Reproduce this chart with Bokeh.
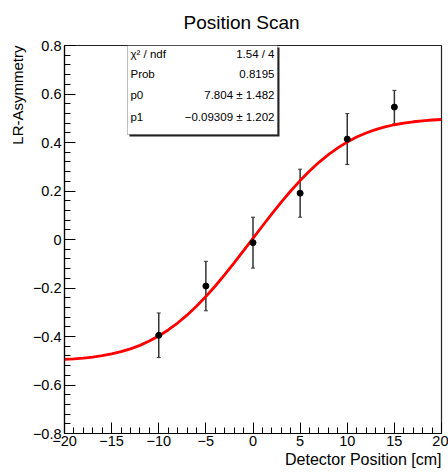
from bokeh.plotting import figure
from bokeh.models import (ColumnDataSource, Whisker, TeeHead, Label, BoxAnnotation,
                          FixedTicker, CustomJSTickFormatter, Range1d, Title)
from bokeh.embed import file_html
from bokeh.resources import INLINE

# ---- data ----
positions = [-10, -5, 0, 5, 10, 15]
asym = [-0.395, -0.192, -0.013, 0.191, 0.414, 0.546]
asym_err = [0.092, 0.102, 0.105, 0.099, 0.105, 0.069]

fit_x = list(range(-20, 21))
fit_y = [-0.4946, -0.4923, -0.4891, -0.4849, -0.4792, -0.4719, -0.4626, -0.4509,
         -0.4365, -0.4189, -0.3979, -0.3731, -0.3445, -0.3120, -0.2754, -0.2353,
         -0.1917, -0.1452, -0.0965, -0.0462, 0.0048, 0.0557, 0.1058, 0.1541,
         0.2000, 0.2430, 0.2825, 0.3183, 0.3501, 0.3780, 0.4021, 0.4224,
         0.4393, 0.4531, 0.4643, 0.4732, 0.4801, 0.4855, 0.4896, 0.4927, 0.4949]

x_ticks = [-20, -15, -10, -5, 0, 5, 10, 15, 20]
y_ticks = [-0.8, -0.6, -0.4, -0.2, 0.0, 0.2, 0.4, 0.6, 0.8]

stat_names = ["\u03c7\u00b2 / ndf", "Prob", "p0", "p1"]
stat_values = ["1.54 / 4", "0.8195", "7.804 \u00b1 1.482", "\u22120.09309 \u00b1 1.202"]

title_text = "Position Scan"
x_title = "Detector Position [cm]"
y_title = "LR-Asymmetry"

FONT = "Liberation Sans"

p = figure(width=448, height=473, output_backend="svg", toolbar_location=None,
           x_range=Range1d(-20, 20), y_range=Range1d(-0.8, 0.8),
           min_border_left=64, min_border_right=7, min_border_top=45, min_border_bottom=40)
p.background_fill_color = "white"
p.border_fill_color = "white"
p.outline_line_color = "#222222"
p.outline_line_width = 1.2
p.xgrid.visible = False
p.ygrid.visible = False

# main title
p.title.text = title_text
p.title.align = "left"
p.title.offset = 119
p.title.text_font = FONT
p.title.text_font_size = "19px"
p.title.text_font_style = "normal"
p.title.text_color = "black"
p.title.vertical_align = "top"
p.title.standoff = 22

# axis titles as side titles (right/top aligned like ROOT)
p.add_layout(Title(text=x_title, align="right", text_font=FONT, text_font_size="16px",
                   text_font_style="normal", text_color="black", standoff=0), "below")
p.add_layout(Title(text=y_title, align="right", text_font=FONT, text_font_size="15px",
                   text_font_style="normal", text_color="black", standoff=7), "left")

# axes
for ax in (p.xaxis[0], p.yaxis[0]):
    ax.axis_line_color = "black"
    ax.axis_line_width = 1.2
    ax.major_tick_out = 0
    ax.minor_tick_out = 0
    ax.major_tick_in = 11
    ax.minor_tick_in = 6
    ax.major_tick_line_color = "black"
    ax.minor_tick_line_color = "black"
    ax.major_label_text_font = FONT
    ax.major_label_text_font_size = "14.5px"
    ax.major_label_text_color = "black"

xminor = [v for v in range(-20, 21) if v % 5 != 0]
p.xaxis.ticker = FixedTicker(ticks=x_ticks, minor_ticks=xminor)
p.xaxis.formatter = CustomJSTickFormatter(code="""
    const s = Math.round(tick).toString();
    return s.replace('-', '\u2212');
""")
p.xaxis.major_label_standoff = 2

yminor = [round(-0.8 + 0.04 * i, 2) for i in range(41)]
p.yaxis.ticker = FixedTicker(ticks=y_ticks, minor_ticks=yminor)
p.yaxis.formatter = CustomJSTickFormatter(code="""
    if (Math.abs(tick) < 1e-9) { return '0'; }
    return tick.toFixed(1).replace('-', '\u2212');
""")
p.yaxis.major_label_standoff = 3

# fit curve
p.line(fit_x, fit_y, line_color="#ff0000", line_width=2.8)

# data points with error bars
src = ColumnDataSource(dict(x=positions, y=asym,
                            lo=[a - e for a, e in zip(asym, asym_err)],
                            hi=[a + e for a, e in zip(asym, asym_err)]))
wh = Whisker(base="x", upper="hi", lower="lo", source=src,
             line_color="#333333", line_width=1.5,
             upper_head=TeeHead(size=4, line_color="#333333", line_width=1),
             lower_head=TeeHead(size=4, line_color="#333333", line_width=1))
p.add_layout(wh)
p.scatter("x", "y", source=src, size=6, color="black")

# stats box
bx_l, bx_r, bx_t, bx_b = -13.32, 2.60, 0.8, 0.433
p.add_layout(BoxAnnotation(left=bx_l + 0.21, right=bx_r + 0.21, top=bx_t - 0.008, bottom=bx_b - 0.008,
                           fill_color="#222222", fill_alpha=1, line_alpha=0))
p.add_layout(BoxAnnotation(left=bx_l, right=bx_r, top=bx_t, bottom=bx_b,
                           fill_color="white", fill_alpha=1, line_color="#222222", line_width=1))
row_offsets = [-8, -28.5, -49, -71]
for name, val, dy in zip(stat_names, stat_values, row_offsets):
    p.add_layout(Label(x=bx_l, y=bx_t, x_offset=3, y_offset=dy, text=name,
                       text_font=FONT, text_font_size="11.5px", text_baseline="middle",
                       text_align="left", text_color="black"))
    p.add_layout(Label(x=bx_r, y=bx_t, x_offset=-3, y_offset=dy, text=val,
                       text_font=FONT, text_font_size="11.5px", text_baseline="middle",
                       text_align="right", text_color="black"))

open("out.html", "w").write(file_html(p, INLINE))
